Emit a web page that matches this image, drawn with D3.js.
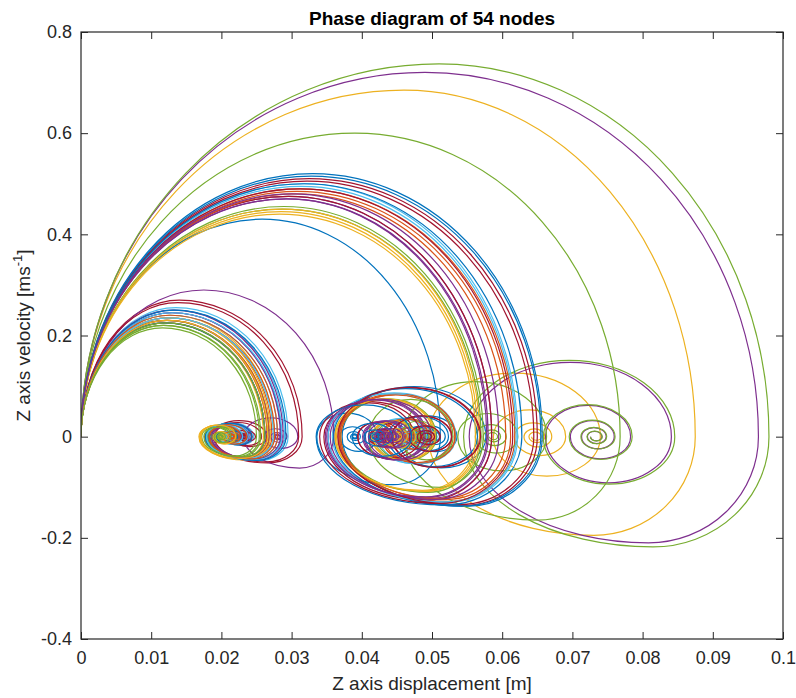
<!DOCTYPE html>
<html>
<head>
<meta charset="utf-8">
<script src="https://cdn.jsdelivr.net/npm/d3@7"></script>
<style>
  body { margin: 0; background: #fff; }
  text { font-family: Arial, "Liberation Sans", sans-serif; }
</style>
</head>
<body>
<div id="chart"></div>
<script>
// one entry per node: equilibrium, first swing peak, landing point, first dip, first left turn
var nodeCentre = [0.0215, 0.0208, 0.0648, 0.0733, 0.0733, 0.0222, 0.0235,
                  0.0500, 0.0470, 0.0450, 0.0440, 0.0587, 0.0468, 0.0493,
                  0.0390, 0.0205, 0.0200, 0.0280, 0.0455, 0.0218, 0.0426,
                  0.0210, 0.0472, 0.0198, 0.0222, 0.0196, 0.0213, 0.0232,
                  0.0488, 0.0212, 0.0448, 0.0438, 0.0202, 0.0462, 0.0207,
                  0.0204, 0.0468, 0.0203, 0.0220, 0.0485, 0.0216, 0.0430,
                  0.0220, 0.0210, 0.0452, 0.0445, 0.0206, 0.0211, 0.0493,
                  0.0420, 0.0216, 0.0201, 0.0436, 0.0199];
var nodePeakX = [0.0130, 0.0125, 0.0460, 0.0490, 0.0510, 0.0135, 0.0140,
                 0.0330, 0.0312, 0.0285, 0.0295, 0.0390, 0.0316, 0.0325,
                 0.0258, 0.0122, 0.0126, 0.0175, 0.0287, 0.0132, 0.0296,
                 0.0121, 0.0308, 0.0120, 0.0131, 0.0116, 0.0127, 0.0138,
                 0.0328, 0.0124, 0.0283, 0.0293, 0.0118, 0.0314, 0.0120,
                 0.0119, 0.0306, 0.0125, 0.0129, 0.0289, 0.0130, 0.0312,
                 0.0133, 0.0123, 0.0287, 0.0300, 0.0121, 0.0125, 0.0322,
                 0.0318, 0.0127, 0.0123, 0.0292, 0.0117];
var nodePeakV = [0.245, 0.235, 0.685, 0.720, 0.737, 0.255, 0.270,
                 0.520, 0.490, 0.445, 0.475, 0.600, 0.500, 0.510,
                 0.430, 0.230, 0.240, 0.290, 0.450, 0.250, 0.475,
                 0.230, 0.485, 0.225, 0.250, 0.215, 0.240, 0.265,
                 0.515, 0.235, 0.440, 0.470, 0.220, 0.495, 0.225,
                 0.225, 0.480, 0.235, 0.245, 0.455, 0.245, 0.490,
                 0.250, 0.230, 0.450, 0.480, 0.225, 0.235, 0.505,
                 0.500, 0.240, 0.230, 0.470, 0.220];
var nodeLand = [0.0285, 0.0272, 0.0875, 0.0965, 0.0980, 0.0295, 0.0315,
                0.0657, 0.0618, 0.0565, 0.0585, 0.0768, 0.0622, 0.0650,
                0.0512, 0.0265, 0.0275, 0.0360, 0.0570, 0.0290, 0.0585,
                0.0268, 0.0612, 0.0260, 0.0288, 0.0250, 0.0280, 0.0310,
                0.0655, 0.0276, 0.0562, 0.0580, 0.0256, 0.0620, 0.0262,
                0.0262, 0.0605, 0.0270, 0.0284, 0.0573, 0.0286, 0.0615,
                0.0292, 0.0268, 0.0568, 0.0595, 0.0262, 0.0274, 0.0645,
                0.0628, 0.0280, 0.0266, 0.0578, 0.0254];
var nodeDip = [-0.045, -0.042, -0.195, -0.210, -0.218, -0.048, -0.052,
               -0.138, -0.128, -0.108, -0.122, -0.165, -0.130, -0.136,
               -0.095, -0.040, -0.046, -0.062, -0.110, -0.047, -0.125,
               -0.041, -0.124, -0.044, -0.046, -0.038, -0.045, -0.050,
               -0.137, -0.043, -0.106, -0.120, -0.040, -0.129, -0.041,
               -0.042, -0.122, -0.045, -0.044, -0.100, -0.046, -0.132,
               -0.047, -0.041, -0.108, -0.124, -0.040, -0.043, -0.134,
               -0.135, -0.044, -0.043, -0.119, -0.039];
var nodeLeft = [0.0178, 0.0180, 0.0495, 0.0553, 0.0545, 0.0182, 0.0186,
                0.0372, 0.0366, 0.0362, 0.0352, 0.0460, 0.0358, 0.0368,
                0.0336, 0.0176, 0.0168, 0.0232, 0.0370, 0.0180, 0.0346,
                0.0184, 0.0370, 0.0170, 0.0186, 0.0172, 0.0178, 0.0190,
                0.0360, 0.0183, 0.0362, 0.0350, 0.0178, 0.0352, 0.0181,
                0.0177, 0.0368, 0.0171, 0.0188, 0.0410, 0.0179, 0.0340,
                0.0181, 0.0182, 0.0364, 0.0355, 0.0180, 0.0179, 0.0366,
                0.0335, 0.0183, 0.0169, 0.0348, 0.0175];
// shrink of each later swing relative to the one before
var loopDecay = [0.6, 0.66, 0.7, 0.72, 0.74, 0.75, 0.76, 0.77, 0.78, 0.78];

var xTicks = [0, 0.01, 0.02, 0.03, 0.04, 0.05, 0.06, 0.07, 0.08, 0.09, 0.1];
var yTicks = [-0.4, -0.2, 0, 0.2, 0.4, 0.6, 0.8];
var colors = ["#0072BD", "#D95319", "#EDB120", "#7E2F8E", "#77AC30", "#4DBEEE", "#A2142F"];

var W = 796, H = 698;
var margin = {top: 32, right: 13, bottom: 59, left: 81};
var width = W - margin.left - margin.right,
    height = H - margin.top - margin.bottom;

var svg = d3.select("#chart").append("svg")
  .attr("width", W)
  .attr("height", H);

var xScale = d3.scaleLinear().domain([0, 0.1]).range([0, width]);
var yScale = d3.scaleLinear().domain([-0.4, 0.8]).range([height, 0]);

var g = svg.append("g")
  .attr("transform", "translate(" + margin.left + "," + margin.top + ")");

g.append("defs").append("clipPath")
  .attr("id", "clip")
  .append("rect")
  .attr("width", width)
  .attr("height", height);

// turning points of one node's spiral
function turningPoints(i) {
  var c = nodeCentre[i];
  var pts = [[0, 0], [nodePeakX[i], nodePeakV[i]], [nodeLand[i], 0]];
  var a1 = nodeLand[i] - c, a2 = c - nodeLeft[i];
  var w = -nodeDip[i] / ((a1 + a2) / 2);
  pts.push([nodeLeft[i] + 0.62 * (nodeLand[i] - nodeLeft[i]), nodeDip[i]]);
  pts.push([nodeLeft[i], 0]);
  var prevX = nodeLeft[i], a = a2, side = 1;
  for (var k = 0; k < loopDecay.length; k++) {
    var next = a * loopDecay[k];
    if (next < 0.0002) break;
    var nx = c + side * next;
    pts.push([(prevX + nx) / 2, side * w * (a + next) / 2]);
    pts.push([nx, 0]);
    prevX = nx; a = next; side = -side;
  }
  return pts;
}

// join turning points with quarter ellipses (phase plane arcs)
function spiralPath(pts) {
  var d = "M" + xScale(pts[0][0]) + "," + yScale(pts[0][1]);
  for (var j = 1; j < pts.length; j++) {
    var x0 = xScale(pts[j - 1][0]), y0 = yScale(pts[j - 1][1]);
    var x1 = xScale(pts[j][0]), y1 = yScale(pts[j][1]);
    var rx = Math.abs(x1 - x0), ry = Math.abs(y1 - y0);
    d += "A" + rx + "," + ry + " 0 0 1 " + x1 + "," + y1;
  }
  return d;
}

var nodes = d3.range(nodeCentre.length);

g.append("g")
  .attr("clip-path", "url(#clip)")
  .selectAll("path")
  .data(nodes)
  .enter().append("path")
  .attr("d", function(i) { return spiralPath(turningPoints(i)); })
  .attr("fill", "none")
  .attr("stroke", function(i) { return colors[i % colors.length]; })
  .attr("stroke-width", 1.2);

// axes, ticks pointing inwards like matlab
var axisColor = "#262626";
var fmt = function(d) { return String(d); };

var xAxis = g.append("g")
  .attr("transform", "translate(0," + height + ")")
  .call(d3.axisBottom(xScale).tickValues(xTicks).tickFormat(fmt)
        .tickSize(-7).tickSizeOuter(0).tickPadding(12));
var yAxis = g.append("g")
  .call(d3.axisLeft(yScale).tickValues(yTicks).tickFormat(fmt)
        .tickSize(-7).tickSizeOuter(0).tickPadding(9));
var xTop = g.append("g")
  .call(d3.axisTop(xScale).tickValues(xTicks).tickFormat("")
        .tickSize(-7).tickSizeOuter(0));
var yRight = g.append("g")
  .attr("transform", "translate(" + width + ",0)")
  .call(d3.axisRight(yScale).tickValues(yTicks).tickFormat("")
        .tickSize(-7).tickSizeOuter(0));

[xAxis, yAxis, xTop, yRight].forEach(function(ax) {
  ax.select(".domain").remove();
  ax.selectAll("line").attr("stroke", axisColor).attr("stroke-width", 1);
  ax.selectAll("text")
    .attr("fill", axisColor)
    .style("font-size", "18px")
    .style("font-family", "Arial, 'Liberation Sans', sans-serif");
});

g.append("rect")
  .attr("width", width)
  .attr("height", height)
  .attr("fill", "none")
  .attr("stroke", axisColor)
  .attr("stroke-width", 1.2);

svg.append("text")
  .attr("x", margin.left + width / 2)
  .attr("y", 25)
  .attr("text-anchor", "middle")
  .style("font-size", "19px")
  .style("font-weight", "bold")
  .attr("fill", "#000")
  .text("Phase diagram of 54 nodes");

svg.append("text")
  .attr("x", margin.left + width / 2)
  .attr("y", 690)
  .attr("text-anchor", "middle")
  .style("font-size", "19px")
  .attr("fill", axisColor)
  .text("Z axis displacement [m]");

var yLab = svg.append("text")
  .attr("transform", "translate(30," + (margin.top + height / 2) + ") rotate(-90)")
  .attr("text-anchor", "middle")
  .style("font-size", "19px")
  .attr("fill", axisColor);
yLab.append("tspan").text("Z axis velocity [ms");
yLab.append("tspan").attr("dy", -8).style("font-size", "13px").text("-1");
yLab.append("tspan").attr("dy", 8).text("]");
</script>
</body>
</html>
